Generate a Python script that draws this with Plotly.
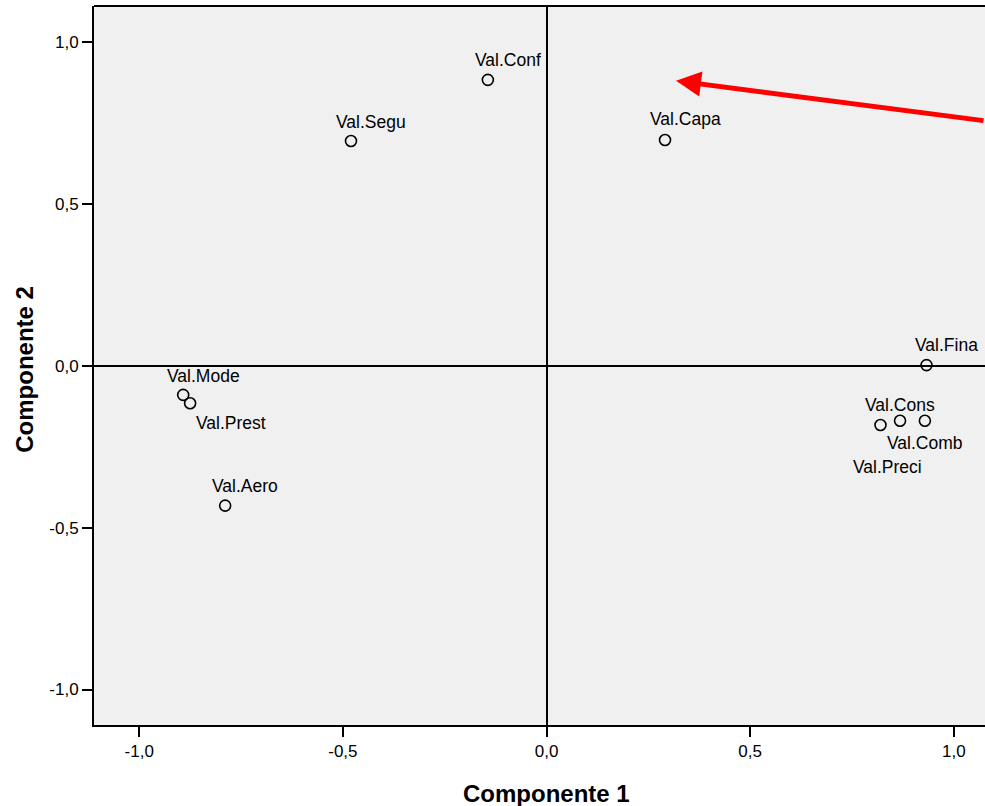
import plotly.graph_objects as go

labels = ["Val.Conf", "Val.Segu", "Val.Capa", "Val.Fina", "Val.Cons",
          "Val.Comb", "Val.Preci", "Val.Mode", "Val.Prest", "Val.Aero"]
comp1 = [-0.144, -0.480, 0.291, 0.933, 0.868, 0.929, 0.820, -0.892, -0.875, -0.789]
comp2 = [0.883, 0.694, 0.697, 0.002, -0.170, -0.170, -0.183, -0.090, -0.116, -0.432]

tick_vals = [-1.0, -0.5, 0.0, 0.5, 1.0]
tick_text = ["-1,0", "-0,5", "0,0", "0,5", "1,0"]

x_title = "Componente 1"
y_title = "Componente 2"

# label offsets in pixels (style only)
label_shift = [(20, 20), (20, 19), (20, 21), (20, 20), (0, 16),
               (0, -22), (7, -42), (20, 19), (41, -20), (20, 20)]

FONT = "Liberation Sans, Arial, sans-serif"

fig = go.Figure()
fig.add_trace(go.Scatter(
    x=comp1, y=comp2, mode="markers",
    marker=dict(symbol="circle-open", size=11, color="black", line=dict(width=1.6)),
    hoverinfo="text", text=labels, showlegend=False, cliponaxis=False,
))

for lab, xv, yv, (dx, dy) in zip(labels, comp1, comp2, label_shift):
    fig.add_annotation(x=xv, y=yv, text=lab, showarrow=False, xshift=dx, yshift=dy,
                       font=dict(family=FONT, size=17.5, color="black"))

# red arrow
fig.add_annotation(x=0.318, y=0.880, ax=330, ay=40, axref="pixel", ayref="pixel",
                   text="", showarrow=True, arrowhead=2, arrowsize=1, arrowwidth=5,
                   arrowcolor="#ff0000", standoff=0)

# axis titles (centred on the zero lines, as in the reference)
fig.add_annotation(x=0, xref="x", y=0, yref="paper", yanchor="middle", yshift=-68,
                   text=f"<b>{x_title}</b>", showarrow=False,
                   font=dict(family=FONT, size=24, color="black"))
fig.add_annotation(x=0, xref="paper", xanchor="center", xshift=-69, y=0, yref="y",
                   yshift=-4, textangle=-90,
                   text=f"<b>{y_title}</b>", showarrow=False,
                   font=dict(family=FONT, size=24, color="black"))

# top border
fig.add_shape(type="line", xref="paper", yref="paper", x0=0, x1=1, y0=1, y1=1,
              line=dict(color="black", width=2))

fig.update_layout(
    width=985, height=806,
    margin=dict(l=94, r=0, t=6, b=81),
    paper_bgcolor="white", plot_bgcolor="#f0f0f0",
    font=dict(family=FONT, size=17, color="black"),
)
fig.update_xaxes(
    range=[-1.111, 1.0766], tickvals=tick_vals, ticktext=tick_text,
    showgrid=False, zeroline=True, zerolinecolor="black", zerolinewidth=2,
    showline=True, linecolor="black", linewidth=2,
    ticks="outside", ticklen=10, tickwidth=2, tickcolor="black",
)
fig.update_yaxes(
    range=[-1.1095, 1.111], tickvals=tick_vals, ticktext=tick_text,
    showgrid=False, zeroline=True, zerolinecolor="black", zerolinewidth=2,
    showline=True, linecolor="black", linewidth=2,
    ticks="outside", ticklen=10, tickwidth=2, tickcolor="black",
)

fig.write_html("out.html", config={"displayModeBar": False},
               post_script="document.body.style.margin='0';document.body.style.overflow='hidden';")
